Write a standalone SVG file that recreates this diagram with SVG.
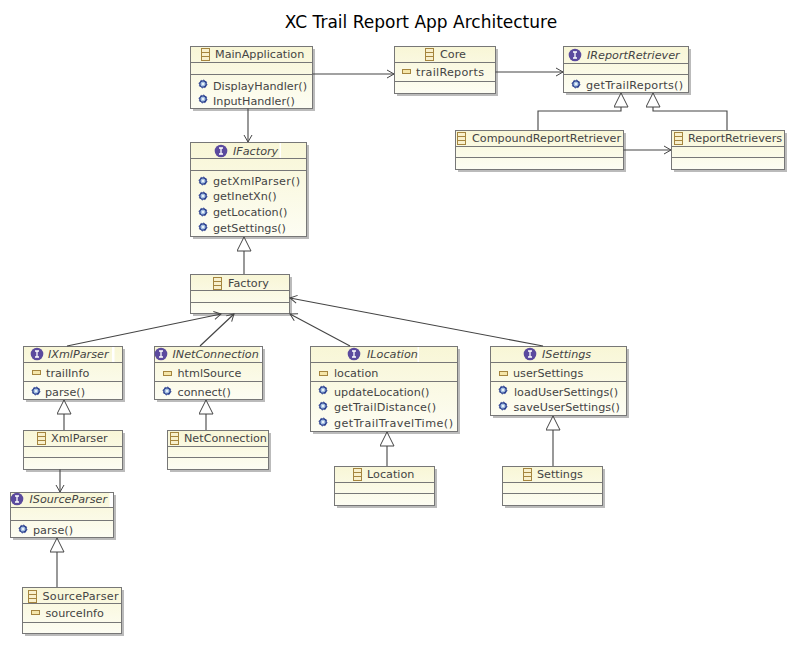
<svg xmlns="http://www.w3.org/2000/svg" width="797" height="645" viewBox="0 0 797 645">
<style>
text{font-family:"DejaVu Sans",sans-serif;font-size:11.2px;fill:#444}
.t{font-size:17px;fill:#000;text-anchor:middle}
.i{font-style:italic}
.b{fill:url(#g);stroke:#777;stroke-width:1}
.s{fill:#bbb}
.l{stroke:#777;stroke-width:1;fill:none}
.c{stroke:#444;stroke-width:1.1;fill:none}
.a{marker-end:url(#open)}
.h{marker-end:url(#tri)}
.w{fill:#fff}
</style>
<defs>
<linearGradient id="g" x1="0" y1="0" x2="0" y2="1"><stop offset="0" stop-color="#f8f6d6"/><stop offset="1" stop-color="#fdfdf3"/></linearGradient>
<marker id="open" markerUnits="userSpaceOnUse" markerWidth="10" markerHeight="10" refX="8" refY="5" orient="auto"><path d="M1 1L8 5L1 9" fill="none" stroke="#444"/></marker>
<marker id="tri" markerUnits="userSpaceOnUse" markerWidth="18" markerHeight="16" refX="15" refY="7.500" orient="auto"><path d="M1 0.500L15 7.500L1 14.500Z" fill="#fff" stroke="#444"/></marker>
<g id="cls"><rect x="0.500" y="0.500" width="8" height="12" fill="#f8f0cc" stroke="#a5853e"/><path d="M0.500 4.500H8.500M0.500 8.500H8.500" stroke="#a5853e"/></g>
<g id="int"><circle cx="6" cy="6" r="6.300" fill="#5b4a9e"/><path d="M4 3H8M6 3V9M4 9H8" stroke="#fff" stroke-width="1.3"/></g>
<g id="m"><circle cx="4" cy="4" r="3.200" fill="#a8c4e4" stroke="#2a3f8f" stroke-width="1.300"/><circle cx="4" cy="4" r="3.900" fill="none" stroke="#2a3f8f" stroke-width="1" stroke-dasharray="1.500 1.500"/><circle cx="4" cy="4" r="1" fill="#fff"/></g>
<g id="f"><rect x="0.500" y="0.500" width="8" height="4" fill="#f5e6a8" stroke="#a5853e"/></g>
</defs>
<text class="t" x="421" y="28">XC Trail Report App Architecture</text>

<g id="MainApplication"><rect class="s" x="193" y="49" width="122" height="62"/><rect class="b" x="190.500" y="46.500" width="122" height="62"/><path class="l" d="M190.500 62.500H312.500M190.500 74.500H312.500"/><use href="#cls" x="201" y="48"/><text x="215" y="58">MainApplication</text><use href="#m" x="199" y="80"/><text x="213" y="90">DisplayHandler()</text><use href="#m" x="199" y="95"/><text x="213" y="105">InputHandler()</text></g>

<g id="Core"><rect class="s" x="397" y="49" width="101" height="47"/><rect class="b" x="394.500" y="46.500" width="101" height="47"/><path class="l" d="M394.500 62.500H495.500M394.500 81.500H495.500"/><use href="#cls" x="425" y="48"/><text x="440" y="58">Core</text><use href="#f" x="402" y="69"/><text x="416" y="76" textLength="68">trailReports</text></g>

<g id="IReportRetriever"><rect class="s" x="566" y="49" width="125" height="46"/><rect class="b" x="563.500" y="46.500" width="125" height="46"/><path class="l" d="M563.500 63.500H688.500M563.500 74.500H688.500"/><use href="#int" x="569" y="49"/><text class="i" x="587" y="59">IReportRetriever</text><use href="#m" x="572" y="80"/><text x="586" y="89" textLength="97">getTrailReports()</text></g>

<g id="CompoundReportRetriever"><rect class="s" x="458" y="133" width="168" height="39"/><rect class="b" x="455.500" y="130.500" width="168" height="39"/><path class="l" d="M455.500 146.500H623.500M455.500 157.500H623.500"/><use href="#cls" x="457" y="132"/><text x="472" y="142">CompoundReportRetriever</text></g>

<g id="ReportRetrievers"><rect class="s" x="674" y="133" width="113" height="39"/><rect class="b" x="671.500" y="130.500" width="113" height="39"/><path class="l" d="M671.500 146.500H784.500M671.500 157.500H784.500"/><use href="#cls" x="674" y="132"/><text x="688" y="142">ReportRetrievers</text></g>

<g id="IFactory"><rect class="s" x="193" y="145" width="116" height="94"/><rect class="b" x="190.500" y="142.500" width="116" height="94"/><path class="l" d="M190.500 158.500H306.500M190.500 170.500H306.500"/><rect class="w" x="279.500" y="143" width="1.500" height="15"/><use href="#int" x="215" y="145"/><text class="i" x="233" y="155">IFactory</text><use href="#m" x="199" y="177"/><text x="213" y="185" textLength="87">getXmlParser()</text><use href="#m" x="199" y="192"/><text x="213" y="200">getInetXn()</text><use href="#m" x="199" y="208"/><text x="213" y="216">getLocation()</text><use href="#m" x="199" y="223"/><text x="213" y="232">getSettings()</text></g>

<g id="Factory"><rect class="s" x="193" y="277" width="99" height="39"/><rect class="b" x="190.500" y="274.500" width="99" height="39"/><path class="l" d="M190.500 290.500H289.500M190.500 302.500H289.500"/><use href="#cls" x="213" y="277"/><text x="228" y="287">Factory</text></g>

<g id="IXmlParser"><rect class="s" x="26" y="349" width="99" height="53"/><rect class="b" x="23.500" y="346.500" width="99" height="53"/><path class="l" d="M23.500 362.500H122.500M23.500 381.500H122.500"/><rect class="w" x="112" y="347" width="2.500" height="15"/><use href="#int" x="31" y="348"/><text class="i" x="48" y="358">IXmlParser</text><use href="#f" x="32" y="370"/><text x="46" y="377">trailInfo</text><use href="#m" x="32" y="387"/><text x="45" y="396">parse()</text></g>

<g id="XmlParser"><rect class="s" x="26" y="433" width="99" height="39"/><rect class="b" x="23.500" y="430.500" width="99" height="39"/><path class="l" d="M23.500 446.500H122.500M23.500 457.500H122.500"/><use href="#cls" x="37" y="432"/><text x="51" y="442">XmlParser</text></g>

<g id="ISourceParser"><rect class="s" x="13" y="495" width="103" height="45"/><rect class="b" x="10.500" y="492.500" width="103" height="45"/><path class="l" d="M10.500 507.500H113.500M10.500 520.500H113.500"/><rect class="w" x="109.500" y="493" width="3.500" height="14"/><use href="#int" x="11" y="493"/><text class="i" x="29.500" y="503">ISourceParser</text><use href="#m" x="19" y="525"/><text x="33" y="534">parse()</text></g>

<g id="SourceParser"><rect class="s" x="25" y="590" width="99" height="46"/><rect class="b" x="22.500" y="587.500" width="99" height="46"/><path class="l" d="M22.500 603.500H121.500M22.500 622.500H121.500"/><use href="#cls" x="28" y="590"/><text x="42.500" y="600" textLength="76">SourceParser</text><use href="#f" x="31" y="610"/><text x="45.500" y="617">sourceInfo</text></g>

<g id="INetConnection"><rect class="s" x="157" y="349" width="108" height="53"/><rect class="b" x="154.500" y="346.500" width="108" height="53"/><path class="l" d="M154.500 362.500H262.500M154.500 381.500H262.500"/><rect class="w" x="260" y="347" width="2" height="15"/><use href="#int" x="155" y="348"/><text class="i" x="172.500" y="358">INetConnection</text><use href="#f" x="163" y="371"/><text x="177.500" y="377">htmlSource</text><use href="#m" x="163" y="387"/><text x="177.500" y="396">connect()</text></g>

<g id="NetConnection"><rect class="s" x="170" y="433" width="101" height="39"/><rect class="b" x="167.500" y="430.500" width="101" height="39"/><path class="l" d="M167.500 446.500H268.500M167.500 457.500H268.500"/><use href="#cls" x="170" y="432"/><text x="184" y="442">NetConnection</text></g>

<g id="ILocation"><rect class="s" x="313" y="349" width="147" height="85"/><rect class="b" x="310.500" y="346.500" width="147" height="85"/><path class="l" d="M310.500 362.500H457.500M310.500 381.500H457.500"/><rect class="w" x="417.500" y="347" width="1.500" height="15"/><use href="#int" x="348" y="348"/><text class="i" x="367" y="358">ILocation</text><use href="#f" x="319" y="371"/><text x="334" y="377">location</text><use href="#m" x="319" y="386"/><text x="334" y="396">updateLocation()</text><use href="#m" x="319" y="402"/><text x="334" y="411" textLength="102">getTrailDistance()</text><use href="#m" x="319" y="418"/><text x="334" y="427" textLength="119">getTrailTravelTime()</text></g>

<g id="Location"><rect class="s" x="337" y="469" width="100" height="39"/><rect class="b" x="334.500" y="466.500" width="100" height="39"/><path class="l" d="M334.500 482.500H434.500M334.500 493.500H434.500"/><use href="#cls" x="353" y="468"/><text x="367" y="478">Location</text></g>

<g id="ISettings"><rect class="s" x="493" y="349" width="136" height="69"/><rect class="b" x="490.500" y="346.500" width="136" height="69"/><path class="l" d="M490.500 362.500H626.500M490.500 381.500H626.500"/><use href="#int" x="524" y="348"/><text class="i" x="542" y="358">ISettings</text><use href="#f" x="499" y="371"/><text x="513" y="377">userSettings</text><use href="#m" x="499" y="386"/><text x="514" y="396">loadUserSettings()</text><use href="#m" x="499" y="402"/><text x="513.500" y="411">saveUserSettings()</text></g>

<g id="Settings"><rect class="s" x="505" y="469" width="100" height="39"/><rect class="b" x="502.500" y="466.500" width="100" height="39"/><path class="l" d="M502.500 482.500H602.500M502.500 493.500H602.500"/><use href="#cls" x="523" y="468"/><text x="537" y="478">Settings</text></g>

<g id="connectors">
<path class="c a" d="M312.500 74H394"/>
<path class="c a" d="M495.500 72H563"/>
<path class="c a" d="M248 108.500V142"/>
<path class="c h" d="M244 274V237"/>
<path class="c a" d="M67 346L221 314"/>
<path class="c a" d="M200 346L234 314"/>
<path class="c a" d="M350 346L290 314"/>
<path class="c a" d="M543 346L290 298"/>
<path class="c h" d="M64 430V400"/>
<path class="c a" d="M60 469.500V492"/>
<path class="c h" d="M57 587V538"/>
<path class="c h" d="M206 430V400"/>
<path class="c h" d="M387 466V432"/>
<path class="c h" d="M553 466V416"/>
<path class="c h" d="M538 130V111H621V93"/>
<path class="c h" d="M727 130V111H653V93"/>
<path class="c a" d="M623.500 150H671"/>
</g>
</svg>
